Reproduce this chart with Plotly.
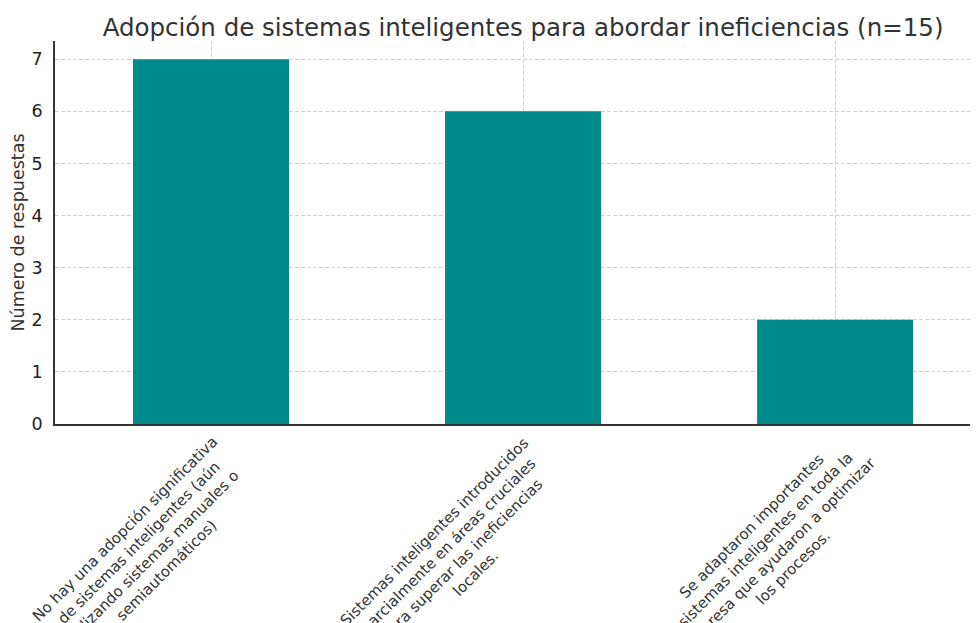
import plotly.graph_objects as go

categories = [
    "No hay una adopción significativa<br>de sistemas inteligentes (aún<br>utilizando sistemas manuales o<br>semiautomáticos)",
    "Sistemas inteligentes introducidos<br>parcialmente en áreas cruciales<br>para superar las ineficiencias<br>locales.",
    "Se adaptaron importantes<br>sistemas inteligentes en toda la<br>empresa que ayudaron a optimizar<br>los procesos.",
]
responses = [7, 6, 2]

TITLE = "Adopción de sistemas inteligentes para abordar ineficiencias (n=15)"
FONT = "DejaVu Sans"
TEXT = "#333333"
GRID = "#d0d0d0"

fig = go.Figure()
fig.add_trace(go.Bar(x=categories, y=responses, width=0.5,
                     marker=dict(color="#008b8b", line=dict(width=0))))

# rotated labels, anchored like matplotlib rotation_mode='anchor', ha='right'
char_w, line_h, pad = 7.9, 19.5, 6
for cat in categories:
    lines = cat.split("<br>")
    w = max(len(l) for l in lines) * char_w
    h = len(lines) * line_h
    fig.add_annotation(x=cat, y=0, xref="x", yref="paper", text=cat, showarrow=False,
                       textangle=-45, align="center", xanchor="center", yanchor="middle",
                       xshift=0.7071 * (h - w) / 2, yshift=-(pad + 0.7071 * (w + h) / 2),
                       font=dict(family=FONT, size=15, color=TEXT))

# page body has an 8px margin, so the figure is 8px smaller than the window
fig.update_layout(
    width=970, height=615,
    margin=dict(l=47, r=0, t=33, b=199),
    paper_bgcolor="white", plot_bgcolor="white",
    font=dict(family=FONT, color=TEXT),
    title=dict(text=TITLE, x=0.531, xanchor="center", y=0.969, yanchor="middle",
               font=dict(family=FONT, size=24.5, color=TEXT)),
    showlegend=False,
)
fig.update_xaxes(range=[-0.5, 2.458], showticklabels=False, ticks="",
                 showgrid=True, gridcolor=GRID, griddash="4px,2px", gridwidth=0.8,
                 showline=True, linecolor="#333333", linewidth=1.5, layer="above traces")
fig.update_yaxes(range=[0, 7.35], dtick=1, ticks="", ticklabelstandoff=7, automargin=False,
                 showgrid=True, gridcolor=GRID, griddash="4px,2px", gridwidth=0.8,
                 zeroline=False, showline=True, linecolor="#333333", linewidth=1.5,
                 tickfont=dict(family=FONT, size=17.5, color="#222222"),
                 title=dict(text="Número de respuestas", standoff=5,
                            font=dict(family=FONT, size=17.5, color=TEXT)),
                 layer="above traces")

fig.write_html("out.html")
